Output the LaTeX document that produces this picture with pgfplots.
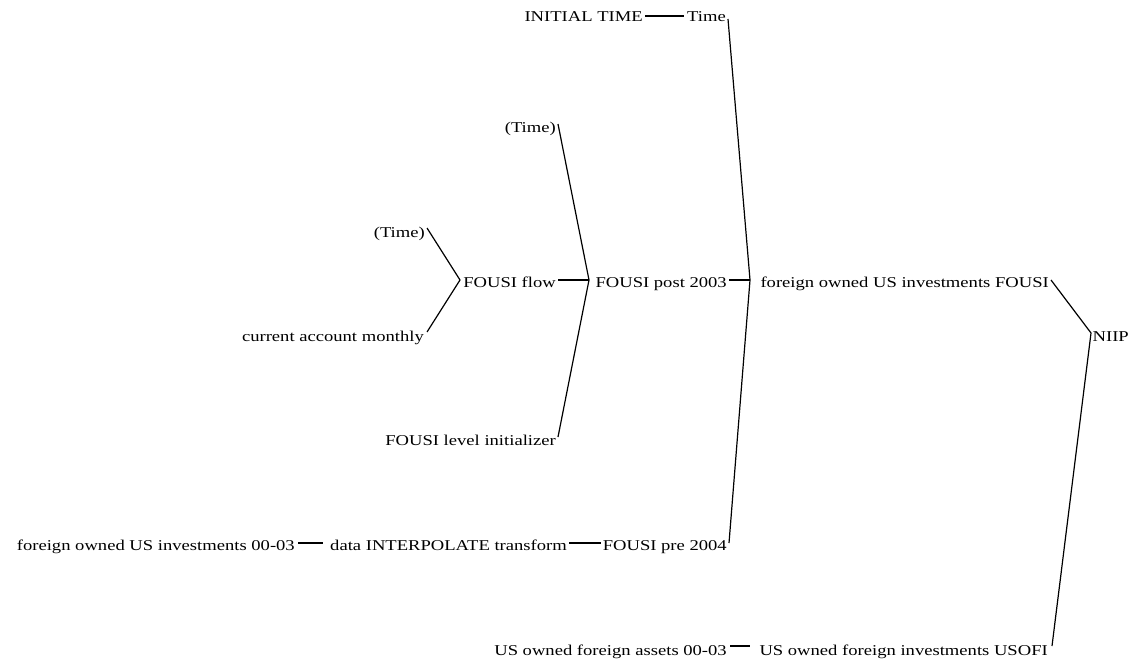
\documentclass[border=0pt]{standalone}
\usepackage{fontspec}
\setmainfont[FakeStretch=1.24]{Liberation Serif}
\usepackage{pgfplots}
\pgfplotsset{compat=1.18}
\tikzset{txt/.style={anchor=base east, inner sep=0pt, font=\fontsize{15bp}{18bp}\selectfont}}
\pgfplotsset{ln/.style={black, solid, line width=1.2bp, mark=none}}
\begin{document}
\begin{tikzpicture}
\begin{axis}[
  width=1144bp, height=663bp, scale only axis,
  xmin=0, xmax=1144, ymin=0, ymax=663, y dir=reverse,
  hide axis, clip=false,
]
% invisible frame
\addplot[draw=none, mark=none] coordinates {(0,0) (1144,663)};
% INITIAL TIME -> Time
\addplot[ln] coordinates {(645,16) (684,16)};
% foreign owned US investments FOUSI junction
\addplot[ln] coordinates {(728,19) (750,280) (729,543)};
\addplot[ln] coordinates {(729,280) (750,280)};
% FOUSI post 2003 junction
\addplot[ln] coordinates {(558,124) (589,280) (558,437)};
\addplot[ln] coordinates {(558,280) (589,280)};
% FOUSI flow junction
\addplot[ln] coordinates {(427,228) (460,280) (427,332)};
% pre 2004 row
\addplot[ln] coordinates {(298,543) (323,543)};
\addplot[ln] coordinates {(569,543) (601,543)};
% NIIP junction
\addplot[ln] coordinates {(1051,280) (1091,333) (1052,646)};
% USOFI row
\addplot[ln] coordinates {(730,646) (750,646)};

\node[txt] at (axis cs:643,22) {INITIAL TIME};
\node[txt] at (axis cs:726,22) {Time};
\node[txt] at (axis cs:556,132) {(Time)};
\node[txt] at (axis cs:425,237) {(Time)};
\node[txt] at (axis cs:556,287) {FOUSI flow};
\node[txt] at (axis cs:424,341) {current account monthly};
\node[txt] at (axis cs:556,445) {FOUSI level initializer};
\node[txt] at (axis cs:727,287) {FOUSI post 2003};
\node[txt] at (axis cs:295,550) {foreign owned US investments 00-03};
\node[txt] at (axis cs:567,550) {data INTERPOLATE transform};
\node[txt] at (axis cs:727,550) {FOUSI pre 2004};
\node[txt] at (axis cs:1049,287) {foreign owned US investments FOUSI};
\node[txt] at (axis cs:727,655) {US owned foreign assets 00-03};
\node[txt] at (axis cs:1048,655) {US owned foreign investments USOFI};
\node[txt] at (axis cs:1129,341) {NIIP};
\end{axis}
\end{tikzpicture}
\end{document}
